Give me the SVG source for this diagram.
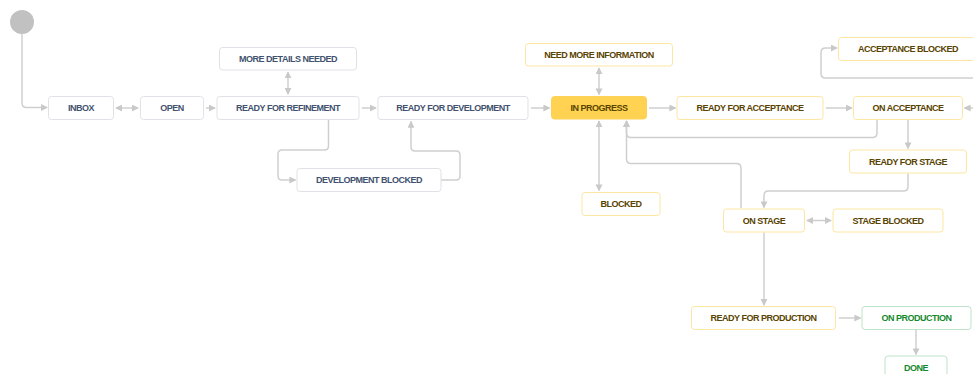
<svg xmlns="http://www.w3.org/2000/svg" width="973" height="374" viewBox="0 0 973 374">
  <defs>
    <marker id="arr" viewBox="0 0 8 8" refX="7" refY="4" markerWidth="7" markerHeight="7" markerUnits="userSpaceOnUse" orient="auto-start-reverse">
      <path d="M0,0 L8,4 L0,8 Z" fill="#c9c9c9"/>
    </marker>
    <style>
      .box rect { fill: #ffffff; stroke-width: 1; }
      .todo rect { stroke: #dfe1e6; }
      .prog rect { stroke: #fde6a1; }
      .done rect { stroke: #bfe3c8; }
      .box text { font-family: "Liberation Sans", Arial, sans-serif; font-size: 9px; font-weight: bold; letter-spacing: -0.5px; text-anchor: middle; }
      .todo text { fill: #42526e; }
      .prog text { fill: #594300; }
      .done text { fill: #14892c; }
      #n-in-progress rect { fill: #ffd351; stroke: #fcd15a; }
      .conn path { fill: none; stroke: #cfcfcf; stroke-width: 1.5; }
      .one { marker-end: url(#arr); }
      .two { marker-start: url(#arr); marker-end: url(#arr); }
    </style>
  </defs>
  <rect width="973" height="374" fill="#ffffff"/>

  <!-- transitions -->
  <g id="connectors" class="conn">
    <path class="one" d="M22,34 V103 Q22,107.5 26.5,107.5 H47"/>
    <path class="two" d="M116,108 H138"/>
    <path class="one" d="M206,108 H215"/>
    <path class="two" d="M288,72 V94"/>
    <path class="one" d="M362,108 H376"/>
    <path class="one" d="M328.5,120 V146 Q328.5,150 324.5,150 H282 Q278,150 278,154 V176 Q278,180 282,180 H295.5"/>
    <path class="one" d="M441,180 H456 Q460,180 460,176 V155 Q460,151 456,151 H415 Q411,151 411,147 V121.5"/>
    <path class="one" d="M531,108 H549.5"/>
    <path class="two" d="M599,68 V94.5"/>
    <path class="two" d="M599,121 V190.5"/>
    <path class="one" d="M649,108 H675.5"/>
    <path class="one" d="M826,108 H852"/>
    <path class="one" d="M877,120 V133 Q877,137.5 872.5,137.5 H631 Q626.5,137.5 626.5,133 V121"/>
    <path class="one" d="M741,208 V168 Q741,163.5 736.5,163.5 H631 Q626.5,163.5 626.5,159 V121"/>
    <path class="one" d="M908,120 V148.5"/>
    <path class="one" d="M908,173.5 V186.5 Q908,191 903.5,191 H768.5 Q764,191 764,195.5 V207.5"/>
    <path class="two" d="M807,220.5 H831"/>
    <path class="one" d="M764,232.5 V305"/>
    <path class="one" d="M839,318 H860.5"/>
    <path class="one" d="M916,330 V354.5"/>
    <path class="one" d="M975,108 H964.5"/>
    <path class="one" d="M975,78 H825.5 Q821,78 821,73.5 V52.5 Q821,48 825.5,48 H837"/>
  </g>

  <!-- initial state -->
  <g id="n-start">
    <circle cx="22" cy="22" r="12" fill="#c1c1c1"/>
  </g>

  <!-- statuses -->
  <g id="n-inbox" class="box todo">
    <rect x="48.5" y="96.5" width="65" height="23" rx="3"/>
    <text x="81" y="111.2">INBOX</text>
  </g>
  <g id="n-open" class="box todo">
    <rect x="140.5" y="96.5" width="63" height="23" rx="3"/>
    <text x="172" y="111.2">OPEN</text>
  </g>
  <g id="n-ready-for-refinement" class="box todo">
    <rect x="217" y="96.5" width="142" height="23" rx="3"/>
    <text x="288" y="111.2">READY FOR REFINEMENT</text>
  </g>
  <g id="n-more-details-needed" class="box todo">
    <rect x="219.5" y="47.5" width="137" height="22.5" rx="3"/>
    <text x="288" y="61.8">MORE DETAILS NEEDED</text>
  </g>
  <g id="n-ready-for-development" class="box todo">
    <rect x="378" y="96.5" width="150" height="23" rx="3"/>
    <text x="453" y="111.2">READY FOR DEVELOPMENT</text>
  </g>
  <g id="n-development-blocked" class="box todo">
    <rect x="297" y="168.5" width="144" height="23" rx="3"/>
    <text x="369" y="183.2">DEVELOPMENT BLOCKED</text>
  </g>
  <g id="n-in-progress" class="box prog">
    <rect x="551.5" y="96.5" width="95" height="22.5" rx="3"/>
    <text x="599" y="111">IN PROGRESS</text>
  </g>
  <g id="n-need-more-information" class="box prog">
    <rect x="525.5" y="43.5" width="147" height="22.5" rx="3"/>
    <text x="599" y="57.8">NEED MORE INFORMATION</text>
  </g>
  <g id="n-blocked" class="box prog">
    <rect x="582" y="192.5" width="78" height="23" rx="3"/>
    <text x="621" y="207.2">BLOCKED</text>
  </g>
  <g id="n-ready-for-acceptance" class="box prog">
    <rect x="677" y="96.5" width="146" height="23" rx="3"/>
    <text x="750" y="111.2">READY FOR ACCEPTANCE</text>
  </g>
  <g id="n-on-acceptance" class="box prog">
    <rect x="853.5" y="96.5" width="109" height="23" rx="3"/>
    <text x="908" y="111.2">ON ACCEPTANCE</text>
  </g>
  <g id="n-acceptance-blocked" class="box prog">
    <rect x="838.5" y="37.5" width="139" height="23" rx="3"/>
    <text x="908" y="52.2">ACCEPTANCE BLOCKED</text>
  </g>
  <g id="n-ready-for-stage" class="box prog">
    <rect x="849.5" y="150" width="117" height="23" rx="3"/>
    <text x="908" y="164.7">READY FOR STAGE</text>
  </g>
  <g id="n-on-stage" class="box prog">
    <rect x="723.5" y="209" width="81" height="23" rx="3"/>
    <text x="764" y="223.7">ON STAGE</text>
  </g>
  <g id="n-stage-blocked" class="box prog">
    <rect x="833" y="209" width="110" height="23" rx="3"/>
    <text x="888" y="223.7">STAGE BLOCKED</text>
  </g>
  <g id="n-ready-for-production" class="box prog">
    <rect x="691.5" y="306.5" width="144" height="23" rx="3"/>
    <text x="763.5" y="321.2">READY FOR PRODUCTION</text>
  </g>
  <g id="n-on-production" class="box done">
    <rect x="862" y="306.5" width="109" height="23" rx="3"/>
    <text x="916.5" y="321.2">ON PRODUCTION</text>
  </g>
  <g id="n-done" class="box done">
    <rect x="885" y="356" width="62" height="23" rx="3"/>
    <text x="916" y="370.7">DONE</text>
  </g>
</svg>
